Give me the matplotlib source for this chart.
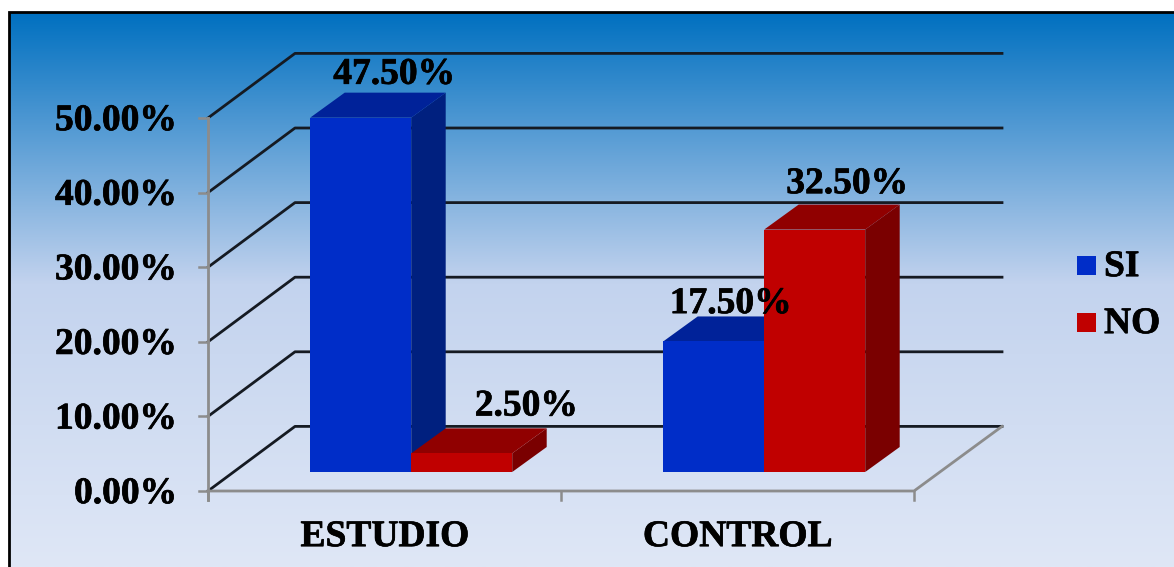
import numpy as np
import matplotlib
matplotlib.use("Agg")
import matplotlib.pyplot as plt
import matplotlib.patheffects as pe
from matplotlib.patches import Polygon, Rectangle
from matplotlib.colors import LinearSegmentedColormap

categories = ["ESTUDIO", "CONTROL"]
series_names = ["SI", "NO"]
si_values = [47.5, 17.5]
no_values = [2.5, 32.5]
value_ticks = [0, 10, 20, 30, 40, 50]
si_color = ("#002DC8", "#00207F", "#002299")
no_color = ("#C00000", "#7A0000", "#900000")
FONT = "Liberation Serif"

plt.rcParams["text.hinting"] = "no_hinting"
plt.rcParams["text.hinting_factor"] = 1

W, H = 1174, 567
fig = plt.figure(figsize=(W/100, H/100), dpi=100, facecolor="white")
ax = fig.add_axes([0, 0, 1, 1])
ax.axis("off")

X0, X1, Y0, UNIT = 208, 914, 491, 37.3/5
DX, DY = 87, -64.6
STROKE = [pe.withStroke(linewidth=0.5, foreground="black")]

def vy(v):
    return Y0 - v*UNIT

def label(x, y, s, ha="center"):
    ax.text(x, y, s, ha=ha, va="center", family=FONT, weight="bold", fontsize=27,
            color="black", zorder=7, path_effects=STROKE)

# background
cmap = LinearSegmentedColormap.from_list("bg", [(0, "#0070C0"), (0.49, "#C3D3EE"), (1, "#DFE7F6")])
grad = np.linspace(0, 1, 256).reshape(-1, 1)
ax.imshow(grad, cmap=cmap, extent=[9, W, H, 12], aspect="auto", zorder=0)
ax.plot([9, 9, W], [H, 12, 12], color="black", lw=2, zorder=1, solid_joinstyle="miter")
ax.set_xlim(0, W); ax.set_ylim(H, 0)

# wall gridlines
for v in value_ticks:
    ax.plot([X0, X0+DX, X1+DX+1], [vy(v), vy(v)+DY, vy(v)+DY], color="#151A22", lw=2, zorder=2)
    ax.plot([X0-9, X0], [vy(v), vy(v)], color="#8C8C8C", lw=1.8, zorder=3)
    label(178.5, vy(v)+3, f"{v:.2f}%", ha="right")

# floor and axes
ax.plot([X0, X0], [vy(50), Y0+9], color="#8C8C8C", lw=2, zorder=3)
ax.plot([X0, X1, X1+DX+1], [Y0, Y0, Y0+DY], color="#8C8C8C", lw=2, zorder=3)
cat_w = (X1-X0)/len(categories)
for i in range(len(categories)+1):
    ax.plot([X0+i*cat_w]*2, [Y0, Y0+9], color="#8C8C8C", lw=1.8, zorder=3)

# bars
BW, BASE_OFF_X, BASE_OFF_Y, SX, SY = 101, 26.7, -19, 34.5, -25
def bar(x, v, cols, z):
    base = Y0 + BASE_OFF_Y
    top = base - v*UNIT
    ax.add_patch(Polygon([(x, base), (x+BW, base), (x+BW, top), (x, top)], fc=cols[0], ec="none", zorder=z+1))
    ax.add_patch(Polygon([(x+BW, base), (x+BW+SX, base+SY), (x+BW+SX, top+SY), (x+BW, top)], fc=cols[1], ec="none", zorder=z))
    ax.add_patch(Polygon([(x, top), (x+BW, top), (x+BW+SX, top+SY), (x+SX, top+SY)], fc=cols[2], ec="none", zorder=z))

# label offsets (dx, dy) from each bar's top centre, by group and series
si_offs = [(34.3, -43), (17.8, -37.5)]
no_offs = [(65.3, -47), (33.3, -45.5)]
for i, c in enumerate(categories):
    cx = X0 + (i+0.5)*cat_w + BASE_OFF_X
    bar(cx-BW, si_values[i], si_color, 4)
    bar(cx, no_values[i], no_color, 4)
    for x, v, off in ((cx-BW, si_values[i], si_offs[i]), (cx, no_values[i], no_offs[i])):
        top = Y0 + BASE_OFF_Y - v*UNIT
        label(x+BW/2+off[0], top+off[1], f"{v:.2f}%")
    label(X0+(i+0.5)*cat_w+1.5, 537, c)

# legend
for name, col, y in zip(series_names, (si_color[0], no_color[0]), (265, 322)):
    ax.add_patch(Rectangle((1077, y-9.5), 19, 19, fc=col, ec="none", zorder=6))
    label(1104, y+2, name, ha="left")

fig.savefig("out.png", dpi=100)
